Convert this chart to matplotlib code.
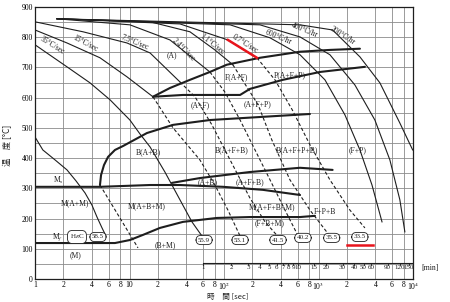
import matplotlib
matplotlib.use("Agg")
import matplotlib.pyplot as plt

# ---------------- data (time in s, temperature in degC) ----------------
# cooling curves: time, temperature, index where the curve turns dashed (None = solid)
c0_t = [1.0, 1.21, 1.63, 2.18, 2.71, 3.38, 4.0, 4.53, 5.12, 5.64]
c0_T = [470, 427, 394, 361, 325, 285, 245, 205, 169, 142]
c1_t = [1.0, 2.18, 3.82, 6.22, 10.1, 12.9, 16.5, 23.7, 34.2, 45.8, 58.5]
c1_T = [775, 702, 649, 593, 526, 480, 437, 354, 262, 189, 142]
c2_t = [1.0, 2.18, 4.87, 9.4, 17.7, 28.9, 55.6, 80.1, 110, 148]
c2_T = [824, 781, 732, 669, 603, 500, 394, 311, 228, 142]
c3_t = [1.0, 3.22, 9.4, 16.5, 34.2, 49.3, 74.5, 116, 188, 272, 369]
c3_T = [851, 818, 781, 748, 652, 603, 510, 394, 268, 189, 142]
c4_t = [1.71, 10.1, 26.8, 70.9, 102, 148, 213, 307, 442, 610]
c4_T = [861, 841, 791, 685, 619, 526, 427, 328, 228, 142]
c5_t = [1.71, 16.5, 43.6, 80.1, 124, 230, 321, 499, 812, 1321]
c5_T = [861, 851, 818, 758, 709, 576, 460, 328, 228, 142]
c6_t = [1.71, 34.2, 110, 223, 346, 527, 812, 1321, 2150, 3098]
c6_T = [861, 844, 791, 732, 659, 560, 444, 328, 228, 169]
c7_t = [1.71, 116, 307, 637, 1170, 1904, 2743, 3681, 4699]
c7_T = [861, 841, 798, 742, 659, 543, 427, 311, 189]
c8_t = [1.71, 240, 637, 1321, 2428, 3951, 5692, 7260, 8200]
c8_T = [861, 841, 801, 742, 642, 526, 394, 262, 156]
c9_t = [1.71, 637, 1410, 2743, 4463, 7260, 9920]
c9_T = [861, 841, 824, 735, 649, 516, 427]
curve_split = [None, None, 4, 4, 3, 4, 3, None, None, None]

red_seg_t = [110, 223]
red_seg_T = [791, 732]

# transformation lines
fs_t = [17.7, 26.8, 43.6, 70.9, 107, 240, 637, 1321, 2743]
fs_T = [603, 632, 659, 685, 709, 732, 752, 758, 762]
ps_t = [17.7, 36.8, 148, 188, 419, 1036, 3098]
ps_T = [603, 609, 609, 629, 659, 685, 702]
bs_t = [4.87, 5.0, 5.37, 5.93, 7.02, 8.54, 15.3, 28.9, 70.9, 240, 812]
bs_T = [311, 344, 377, 404, 427, 440, 483, 510, 526, 536, 546]
bab_t = [28.1, 55.6, 188, 637, 1410]
bab_T = [318, 334, 354, 368, 361]
ms_t = [1.0, 4.87, 16.5, 34.2, 97.9, 258, 637]
ms_T = [305, 305, 311, 311, 305, 295, 278]
mf_t = [1.0, 7.02, 10.1, 13.9, 21.0, 36.8, 84.1, 188, 637, 917]
mf_T = [119, 119, 129, 146, 169, 189, 202, 205, 205, 209]
crit_t = [4.87, 12.3]
crit_T = [311, 103]

# curve labels
rate_labels = ["35°C/sec", "15°C/sec", "7.5°C/sec", "2.4°C/sec", "1.1°C/sec",
               "0.7°C/sec", "600°C/hr", "400°C/hr", "200°C/hr"]
rate_t = [1.51, 3.38, 11.4, 36.8, 74.5, 167, 380, 719, 1780]
rate_T = [772, 778, 781, 758, 775, 778, 801, 824, 805]
rate_rot = [-32, -28, -22, -45, -38, -32, -22, -22, -32]

region_labels = ["(A)", "F(A+F)", "P(A+F+P)", "(A+F)", "(A+F+P)", "B(A+B)",
                 "B(A+F+B)", "B(A+F+P+B)", "(F+P)", "(A+B)", "(A+F+B)",
                 "M(A+F+B+M)", "(F+B+M)", "F+P+B", "M(A+M)", "M(A+B+M)",
                 "(B+M)", "(M)", "M$_s$", "M$_f$"]
region_t = [28.1, 137, 499, 55.6, 224, 15.7, 121, 594, 2560, 67.7, 188,
            322, 307, 1170, 2.65, 15.3, 23.7, 2.71, 1.75, 1.75]
region_T = [742, 669, 675, 576, 579, 420, 427, 427, 427, 321, 321,
            238, 185, 222, 252, 242, 113, 79, 325, 139]

hard_labels = ["H$_R$C", "58.5", "55.9", "53.1", "41.5", "40.2", "35.5", "33.5"]
hard_t = [2.78, 4.64, 61.6, 148, 373, 685, 1380, 2740]
hard_T = [139, 139, 129, 129, 129, 136, 136, 139]

red_under_t = [1980, 3760]
red_under_T = [113, 113]

x_grid = [1, 2, 4, 6, 8, 10, 20, 40, 60, 80, 100, 200, 400, 600, 800,
          1000, 2000, 4000, 6000, 8000, 10000]
x_ticklabels = ["1", "2", "4", "6", "8", "10", "2", "4", "6", "8", "10$^2$",
                "2", "4", "6", "8", "10$^3$", "2", "4", "6", "8", "10$^4$"]
y_ticks = [0, 100, 200, 300, 400, 500, 600, 700, 800, 900]
min_ticks = [1, 2, 3, 4, 5, 6, 7, 8, 9, 10, 15, 20, 30, 40, 50, 60, 90, 120, 150]

# ---------------- drawing ----------------
serif = ["Liberation Serif", "DejaVu Serif"]
cjk = ["Noto Sans CJK JP", "DejaVu Sans"]
plt.rcParams["font.family"] = serif
plt.rcParams["mathtext.fontset"] = "stix"

fig = plt.figure(figsize=(4.5, 3.02), dpi=100)
ax = fig.add_axes([35 / 450, 23 / 302, 378 / 450, 272 / 302])
ax.set_xscale("log")
ax.set_xlim(1, 1e4)
ax.set_ylim(0, 900)

ink = "#1e1e1e"
gridc = "#8a8a8a"
for g in x_grid:
    ax.axvline(g, color=gridc, lw=0.6, zorder=0)
for y in range(0, 901, 50):
    ax.axhline(y, color=gridc, lw=0.6, zorder=0)

ax.set_xticks(x_grid)
ax.set_xticklabels(x_ticklabels, fontsize=5.5)
ax.minorticks_off()
ax.set_yticks(y_ticks)
ax.set_yticklabels([str(v) for v in y_ticks], fontsize=5.5)
ax.tick_params(length=0, pad=1.5)
for s in ax.spines.values():
    s.set_color(ink)
    s.set_linewidth(0.9)

curves = [(c0_t, c0_T), (c1_t, c1_T), (c2_t, c2_T), (c3_t, c3_T), (c4_t, c4_T),
          (c5_t, c5_T), (c6_t, c6_T), (c7_t, c7_T), (c8_t, c8_T), (c9_t, c9_T)]
for (t, T), k in zip(curves, curve_split):
    if k is None:
        ax.plot(t, T, color=ink, lw=0.8)
    else:
        ax.plot(t[:k + 1], T[:k + 1], color=ink, lw=0.8)
        ax.plot(t[k:], T[k:], color=ink, lw=0.8, ls=(0, (3, 2)))
ax.plot(crit_t, crit_T, color=ink, lw=0.8, ls=(0, (3, 2)))
ax.plot(red_seg_t, red_seg_T, color="#e8141c", lw=1.8, zorder=5)

for t, T in [(fs_t, fs_T), (ps_t, ps_T), (bs_t, bs_T), (bab_t, bab_T),
             (ms_t, ms_T), (mf_t, mf_T)]:
    ax.plot(t, T, color=ink, lw=1.5, solid_capstyle="round")

for s, t, T, r in zip(rate_labels, rate_t, rate_T, rate_rot):
    ax.text(t, T, s, fontsize=5.5, rotation=r, ha="center", va="center", color=ink)
for s, t, T in zip(region_labels, region_t, region_T):
    ax.text(t, T, s, fontsize=5.5, ha="center", va="center", color=ink)
for s, t, T in zip(hard_labels, hard_t, hard_T):
    ax.text(t, T, s, fontsize=5, ha="center", va="center", color=ink,
            bbox=dict(boxstyle="round,pad=0.3,rounding_size=0.7",
                      fc="white", ec=ink, lw=0.6))
ax.plot(red_under_t, red_under_T, color="#e8141c", lw=1.8, zorder=5)

# minute scale inside the plot
ax.plot([min_ticks[0] * 60, 1e4], [53, 53], color=ink, lw=0.8)
for m in min_ticks:
    ax.plot([m * 60, m * 60], [53, 47], color=ink, lw=0.6)
    ax.text(m * 60, 38, str(m), fontsize=5, ha="center", va="center", color=ink)
ax.text(1.5e4, 38, "[min]", fontsize=5.5, ha="center", va="center", color=ink,
        clip_on=False)

fig.text(228 / 450, 5 / 302, "時　間 [sec]", fontsize=5.5, family=cjk,
         ha="center", va="center", color=ink)
fig.text(8 / 450, 0.52, "温　度 [°C]", fontsize=6, family=cjk, rotation=90,
         ha="center", va="center", color=ink)

fig.savefig("out.png", dpi=100)
